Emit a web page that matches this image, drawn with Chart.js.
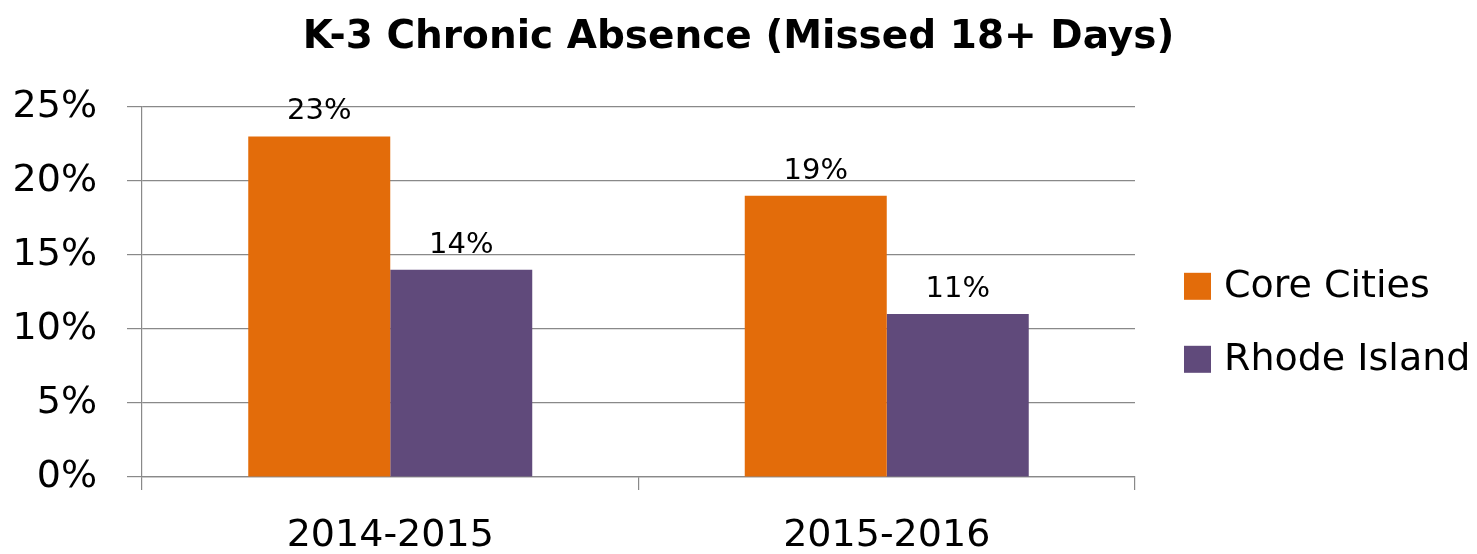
<!DOCTYPE html>
<html>
<head>
<meta charset="utf-8">
<title>K-3 Chronic Absence</title>
<script src="https://cdn.jsdelivr.net/npm/chart.js@4/dist/chart.umd.min.js"></script>
<style>
    html, body { margin: 0; padding: 0; background: #fff; }
    #wrap { width: 1477px; height: 554px; position: relative; }
</style>
</head>
<body>
<div id="wrap"><canvas id="chart"></canvas></div>
<script>
// Chart data
const years = ['2014-2015', '2015-2016'];
const coreCities = [23, 19];
const rhodeIsland = [14, 11];
const seriesNames = ['Core Cities', 'Rhode Island'];
const seriesColors = ['#E36C0A', '#604A7B'];
const yTicks = [0, 5, 10, 15, 20, 25];

const FONT = "'DejaVu Sans', sans-serif";

// Value labels above each bar
const barLabels = {
    id: 'barLabels',
    afterDatasetsDraw(chart) {
        const ctx = chart.ctx;
        ctx.save();
        ctx.font = '29px ' + FONT;
        ctx.fillStyle = '#000';
        ctx.textAlign = 'center';
        ctx.textBaseline = 'bottom';
        chart.data.datasets.forEach((ds, i) => {
            chart.getDatasetMeta(i).data.forEach((bar, j) => {
                ctx.fillText(ds.data[j] + '%', bar.x, bar.y - 10);
            });
        });
        ctx.restore();
    }
};

// Legend on the right, drawn by hand so the box/text gap matches
const sideLegend = {
    id: 'sideLegend',
    afterDraw(chart) {
        const ctx = chart.ctx;
        const area = chart.chartArea;
        const x = area.right + 49;
        ctx.save();
        ctx.font = '38px ' + FONT;
        ctx.textBaseline = 'middle';
        ctx.textAlign = 'left';
        chart.data.datasets.forEach((ds, i) => {
            const cy = area.top + 180 + i * 73;
            ctx.fillStyle = ds.backgroundColor;
            ctx.fillRect(x, cy - 14, 27, 27);
            ctx.fillStyle = '#000';
            ctx.fillText(ds.label, x + 40, cy);
        });
        ctx.restore();
    }
};

new Chart(document.getElementById('chart'), {
    type: 'bar',
    data: {
        labels: years,
        datasets: [
            { label: seriesNames[0], data: coreCities, backgroundColor: seriesColors[0] },
            { label: seriesNames[1], data: rhodeIsland, backgroundColor: seriesColors[1] }
        ]
    },
    options: {
        responsive: true,
        maintainAspectRatio: false,
        animation: false,
        layout: { padding: 0 },
        datasets: {
            bar: { barPercentage: 1, categoryPercentage: 0.572 }
        },
        plugins: {
            legend: { display: false },
            tooltip: { enabled: false },
            title: {
                display: true,
                text: 'K-3 Chronic Absence (Missed 18+ Days)',
                color: '#000',
                font: { family: FONT, size: 39, weight: 'bold', lineHeight: 1.2 },
                padding: { top: 14, bottom: 46 }
            }
        },
        scales: {
            x: {
                grid: {
                    drawOnChartArea: false,
                    tickLength: 13,
                    color: '#898989',
                    lineWidth: 1.2
                },
                border: { color: '#898989', width: 1.2 },
                ticks: {
                    color: '#000',
                    padding: 23,
                    font: { family: FONT, size: 38 }
                },
                afterFit(scale) { scale.height = 77; }
            },
            y: {
                min: 0,
                max: 25,
                afterBuildTicks(scale) {
                    scale.ticks = yTicks.map(v => ({ value: v }));
                },
                grid: {
                    tickLength: 15,
                    color: '#898989',
                    lineWidth: 1.2
                },
                border: { color: '#898989', width: 1.2 },
                ticks: {
                    color: '#000',
                    padding: 30,
                    font: { family: FONT, size: 38 },
                    callback: v => v + '%'
                },
                afterFit(scale) { scale.width = 142; }
            },
            // empty axis that only keeps room for the legend on the right
            legendSpace: {
                type: 'linear',
                position: 'right',
                grid: { display: false },
                border: { display: false },
                ticks: { display: false },
                afterFit(scale) { scale.width = 342; }
            }
        }
    },
    plugins: [barLabels, sideLegend]
});
</script>
</body>
</html>
